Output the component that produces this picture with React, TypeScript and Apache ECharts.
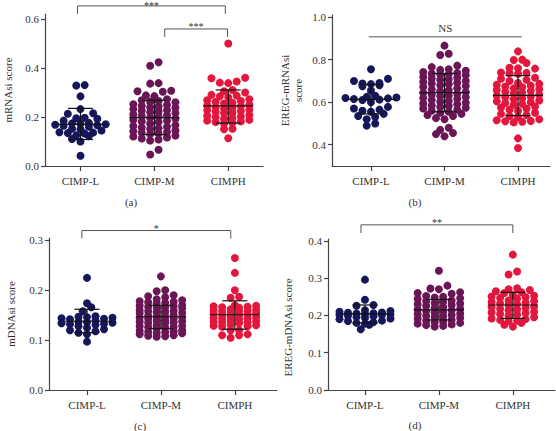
import React, { useEffect, useRef } from 'react';
import * as echarts from 'echarts';

const categories = ['CIMP-L', 'CIMP-M', 'CIMPH'];

// (a) mRNAsi score
const mRNAsiL = [0.33, 0.328, 0.284, 0.232, 0.215, 0.213, 0.197, 0.195, 0.193, 0.185, 0.176, 0.174, 0.172, 0.17, 0.168, 0.166, 0.164, 0.16, 0.152, 0.15, 0.145, 0.138, 0.136, 0.134, 0.132, 0.125, 0.122, 0.11, 0.1, 0.042];
const mRNAsiM = [0.423, 0.409, 0.338, 0.336, 0.307, 0.305, 0.303, 0.288, 0.285, 0.272, 0.268, 0.265, 0.262, 0.26, 0.252, 0.249, 0.246, 0.243, 0.24, 0.238, 0.232, 0.228, 0.225, 0.222, 0.219, 0.216, 0.21, 0.207, 0.204, 0.201, 0.198, 0.193, 0.188, 0.185, 0.182, 0.179, 0.173, 0.166, 0.163, 0.16, 0.157, 0.154, 0.151, 0.145, 0.142, 0.139, 0.136, 0.133, 0.13, 0.124, 0.12, 0.116, 0.112, 0.108, 0.104, 0.066, 0.047];
const mRNAsiH = [0.5, 0.36, 0.358, 0.345, 0.34, 0.338, 0.31, 0.305, 0.3, 0.29, 0.287, 0.284, 0.28, 0.272, 0.268, 0.265, 0.262, 0.258, 0.255, 0.25, 0.247, 0.244, 0.241, 0.238, 0.235, 0.23, 0.227, 0.224, 0.221, 0.218, 0.215, 0.208, 0.205, 0.202, 0.199, 0.196, 0.193, 0.188, 0.185, 0.182, 0.179, 0.176, 0.173, 0.152, 0.15, 0.113];
const mRNAsiMean = [0.17, 0.197, 0.245];
const mRNAsiSdLow = [0.108, 0.128, 0.175];
const mRNAsiSdHigh = [0.235, 0.268, 0.31];
const mRNAsiSig: [number, number, number, number, string][] = [[0.96, 2.96, 0.653, 0.62, '***'], [2.14, 2.99, 0.559, 0.527, '***']];

// (b) EREG-mRNAsi score
const eregMRNAsiL = [0.755, 0.71, 0.7, 0.69, 0.688, 0.685, 0.68, 0.675, 0.655, 0.63, 0.625, 0.622, 0.62, 0.618, 0.615, 0.612, 0.61, 0.6, 0.578, 0.57, 0.565, 0.56, 0.555, 0.545, 0.535, 0.53, 0.52, 0.5, 0.49];
const eregMRNAsiM = [0.866, 0.828, 0.822, 0.772, 0.765, 0.755, 0.752, 0.748, 0.742, 0.738, 0.735, 0.732, 0.73, 0.727, 0.72, 0.716, 0.712, 0.708, 0.705, 0.7, 0.695, 0.692, 0.688, 0.684, 0.68, 0.676, 0.672, 0.665, 0.66, 0.656, 0.652, 0.648, 0.645, 0.64, 0.636, 0.632, 0.628, 0.624, 0.62, 0.616, 0.61, 0.606, 0.602, 0.598, 0.594, 0.59, 0.585, 0.582, 0.578, 0.574, 0.57, 0.565, 0.56, 0.555, 0.55, 0.545, 0.54, 0.535, 0.525, 0.52, 0.48, 0.47, 0.455, 0.45, 0.44];
const eregMRNAsiH = [0.839, 0.8, 0.798, 0.784, 0.762, 0.76, 0.758, 0.74, 0.738, 0.736, 0.734, 0.715, 0.71, 0.705, 0.7, 0.69, 0.686, 0.682, 0.678, 0.674, 0.67, 0.665, 0.661, 0.657, 0.653, 0.649, 0.645, 0.641, 0.635, 0.631, 0.627, 0.623, 0.619, 0.615, 0.608, 0.604, 0.6, 0.596, 0.592, 0.588, 0.58, 0.575, 0.57, 0.565, 0.56, 0.55, 0.545, 0.54, 0.535, 0.53, 0.52, 0.515, 0.512, 0.51, 0.508, 0.505, 0.43, 0.385];
const eregMRNAsiMean = [0.613, 0.645, 0.632];
const eregMRNAsiSdLow = [0.545, 0.555, 0.537];
const eregMRNAsiSdHigh = [0.683, 0.735, 0.725];
const eregMRNAsiSig: [number, number, number, number, string][] = [[0.97, 3.05, 0.908, 0.908, 'NS']];

// (c) mDNAsi score
const mDNAsiL = [0.225, 0.174, 0.166, 0.158, 0.148, 0.147, 0.146, 0.145, 0.144, 0.143, 0.142, 0.139, 0.137, 0.136, 0.135, 0.134, 0.133, 0.132, 0.131, 0.128, 0.125, 0.122, 0.12, 0.118, 0.115, 0.112, 0.097];
const mDNAsiM = [0.228, 0.2, 0.198, 0.19, 0.188, 0.186, 0.182, 0.18, 0.178, 0.177, 0.176, 0.175, 0.174, 0.17, 0.169, 0.168, 0.167, 0.166, 0.165, 0.164, 0.16, 0.159, 0.158, 0.157, 0.156, 0.155, 0.154, 0.15, 0.149, 0.148, 0.147, 0.146, 0.145, 0.144, 0.143, 0.14, 0.139, 0.138, 0.137, 0.136, 0.135, 0.134, 0.13, 0.129, 0.128, 0.127, 0.126, 0.125, 0.124, 0.12, 0.119, 0.118, 0.117, 0.116, 0.115, 0.114, 0.112, 0.11, 0.109, 0.108, 0.107];
const mDNAsiH = [0.265, 0.235, 0.2, 0.187, 0.185, 0.17, 0.169, 0.168, 0.167, 0.166, 0.165, 0.162, 0.161, 0.16, 0.159, 0.158, 0.157, 0.155, 0.154, 0.153, 0.152, 0.151, 0.15, 0.147, 0.146, 0.145, 0.144, 0.143, 0.142, 0.139, 0.138, 0.137, 0.136, 0.135, 0.134, 0.131, 0.13, 0.129, 0.128, 0.127, 0.12, 0.12, 0.112, 0.11, 0.11, 0.105];
const mDNAsiMean = [0.138, 0.147, 0.151];
const mDNAsiSdLow = [0.115, 0.123, 0.122];
const mDNAsiSdHigh = [0.162, 0.17, 0.179];
const mDNAsiSig: [number, number, number, number, string][] = [[0.93, 2.945, 0.32, 0.304, '*']];

// (d) EREG-mDNAsi score
const eregMDNAsiL = [0.296, 0.242, 0.228, 0.226, 0.214, 0.212, 0.21, 0.208, 0.207, 0.206, 0.205, 0.204, 0.203, 0.202, 0.201, 0.2, 0.198, 0.196, 0.194, 0.192, 0.19, 0.186, 0.185, 0.182, 0.18, 0.178, 0.175, 0.163];
const eregMDNAsiM = [0.32, 0.28, 0.272, 0.27, 0.262, 0.26, 0.258, 0.252, 0.25, 0.248, 0.246, 0.244, 0.24, 0.238, 0.236, 0.234, 0.232, 0.23, 0.228, 0.226, 0.222, 0.22, 0.218, 0.216, 0.214, 0.212, 0.21, 0.208, 0.205, 0.203, 0.201, 0.199, 0.197, 0.195, 0.193, 0.191, 0.188, 0.186, 0.184, 0.182, 0.18, 0.178, 0.176, 0.174, 0.172, 0.17];
const eregMDNAsiH = [0.363, 0.318, 0.31, 0.273, 0.27, 0.268, 0.265, 0.262, 0.26, 0.255, 0.253, 0.251, 0.249, 0.247, 0.245, 0.24, 0.238, 0.236, 0.234, 0.232, 0.23, 0.228, 0.224, 0.222, 0.22, 0.218, 0.216, 0.214, 0.21, 0.208, 0.206, 0.204, 0.202, 0.2, 0.195, 0.192, 0.19, 0.188, 0.186, 0.185, 0.18, 0.175, 0.17];
const eregMDNAsiMean = [0.204, 0.215, 0.228];
const eregMDNAsiSdLow = [0.18, 0.188, 0.192];
const eregMDNAsiSdHigh = [0.228, 0.243, 0.262];
const eregMDNAsiSig: [number, number, number, number, string][] = [[0.946, 3.0, 0.443, 0.421, '**']];

const groupColors = ['#16175a', '#6a1656', '#e3173d'];
const rowLimit = [7, 6, 6];
const FONT = 'Liberation Serif';

const panels = [
  { groups: [mRNAsiL, mRNAsiM, mRNAsiH], mean: mRNAsiMean, lo: mRNAsiSdLow, hi: mRNAsiSdHigh, sig: mRNAsiSig,
    yName: 'mRNAsi score', nameGap: 31, namePad: 0, yMin: 0, yMax: 0.62, yTicks: [0, 0.2, 0.4, 0.6],
    xMin: 0.52, xMax: 3.47, left: 43, top: 14, width: 220, height: 152, caption: '(a)', capX: 131, capY: 202 },
  { groups: [eregMRNAsiL, eregMRNAsiM, eregMRNAsiH], mean: eregMRNAsiMean, lo: eregMRNAsiSdLow, hi: eregMRNAsiSdHigh, sig: eregMRNAsiSig,
    yName: 'EREG-mRNAsi\nscore', nameGap: 28, namePad: 0, yMin: 0.3, yMax: 1.01, yTicks: [0.4, 0.6, 0.8, 1.0],
    xMin: 0.47, xMax: 3.435, left: 332, top: 15, width: 218, height: 151, caption: '(b)', capX: 415, capY: 202 },
  { groups: [mDNAsiL, mDNAsiM, mDNAsiH], mean: mDNAsiMean, lo: mDNAsiSdLow, hi: mDNAsiSdHigh, sig: mDNAsiSig,
    yName: 'mDNAsi score', nameGap: 32, namePad: 0, yMin: 0, yMax: 0.305, yTicks: [0, 0.1, 0.2, 0.3],
    xMin: 0.486, xMax: 3.57, left: 49, top: 238, width: 228, height: 152, caption: '(c)', capX: 140, capY: 426 },
  { groups: [eregMDNAsiL, eregMDNAsiM, eregMDNAsiH], mean: eregMDNAsiMean, lo: eregMDNAsiSdLow, hi: eregMDNAsiSdHigh, sig: eregMDNAsiSig,
    yName: 'EREG-mDNAsi score', nameGap: 34, namePad: 26, yMin: 0, yMax: 0.405, yTicks: [0, 0.1, 0.2, 0.3, 0.4],
    xMin: 0.5, xMax: 3.57, left: 328, top: 239, width: 227, height: 151, caption: '(d)', capX: 415, capY: 425 },
];

// Prism-like column scatter layout: points with near-equal values share a row
function swarm(values: number[], center: number, pxX: number, pxY: number, binPx: number, spacingPx: number, maxRow: number) {
  const sorted = [...values].sort((a, b) => a - b);
  const rows: number[][] = [];
  let cur: number[] = [];
  let start = 0;
  for (const v of sorted) {
    if (cur.length === 0) {
      start = v;
      cur.push(v);
    } else if (cur.length < maxRow && (v - start) * pxY < binPx) {
      cur.push(v);
    } else {
      rows.push(cur);
      cur = [v];
      start = v;
    }
  }
  if (cur.length) rows.push(cur);
  const out: number[][] = [];
  for (const row of rows) {
    const n = row.length;
    const slots: number[] = [];
    for (let i = 0; i < n; i++) slots.push(i - (n - 1) / 2);
    slots.sort((a, b) => Math.abs(a) - Math.abs(b) || a - b);
    row.forEach((v, i) => {
      out.push([center + (slots[i] * spacingPx) / pxX, v]);
    });
  }
  return out;
}

export default function App() {
  const ref = useRef<HTMLDivElement>(null);
  useEffect(() => {
    if (!ref.current) return;
    const chart = echarts.init(ref.current, undefined, { renderer: 'svg' });
    const grid: any[] = [];
    const xAxis: any[] = [];
    const yAxis: any[] = [];
    const series: any[] = [];
    const graphic: any[] = [];
    const axisColor = '#444';
    const textColor = '#333';
    panels.forEach((p, i) => {
      grid.push({ left: p.left, top: p.top, width: p.width, height: p.height });
      xAxis.push({
        type: 'value', gridIndex: i, min: p.xMin, max: p.xMax,
        axisLine: { show: true, onZero: false, lineStyle: { color: axisColor, width: 1.2 } },
        axisTick: { show: true, length: 5, customValues: [1, 2, 3], lineStyle: { color: axisColor, width: 1.2 } },
        axisLabel: { customValues: [1, 2, 3], formatter: (v: number) => categories[Math.round(v) - 1] || '', margin: 9,
          fontSize: 11, fontFamily: FONT, color: textColor },
        splitLine: { show: false },
      });
      yAxis.push({
        type: 'value', gridIndex: i, min: p.yMin, max: p.yMax,
        name: p.yName, nameLocation: 'middle', nameGap: p.nameGap,
        nameTextStyle: { fontSize: 11, fontFamily: FONT, color: textColor, lineHeight: 13, padding: [0, p.namePad, 0, 0] },
        axisLine: { show: true, onZero: false, lineStyle: { color: axisColor, width: 1.2 } },
        axisTick: { show: true, length: 4, customValues: p.yTicks, lineStyle: { color: axisColor, width: 1.2 } },
        axisLabel: { customValues: p.yTicks, formatter: (v: number) => v.toFixed(1), margin: 6,
          fontSize: 11, fontFamily: FONT, color: textColor },
        splitLine: { show: false },
      });
      const pxX = p.width / (p.xMax - p.xMin);
      const pxY = p.height / (p.yMax - p.yMin);
      p.groups.forEach((vals, g) => {
        series.push({
          type: 'scatter', xAxisIndex: i, yAxisIndex: i, symbol: 'circle', symbolSize: 8,
          itemStyle: { color: groupColors[g], opacity: 1 }, silent: true,
          data: swarm(vals, g + 1, pxX, pxY, 5.5, 8.5, rowLimit[g]),
        });
      });
      series.push({
        type: 'custom', xAxisIndex: i, yAxisIndex: i, z: 5, silent: true, clip: false,
        data: p.mean.map((m, g) => [g + 1, m, p.lo[g], p.hi[g]]),
        renderItem: (params: any, api: any) => {
          const x = api.value(0);
          const pm = api.coord([x, api.value(1)]);
          const plo = api.coord([x, api.value(2)]);
          const phi = api.coord([x, api.value(3)]);
          const st = { stroke: '#111', lineWidth: 1.2 };
          return {
            type: 'group', children: [
              { type: 'line', shape: { x1: pm[0] - 25, y1: pm[1], x2: pm[0] + 25, y2: pm[1] }, style: st },
              { type: 'line', shape: { x1: pm[0], y1: phi[1], x2: pm[0], y2: plo[1] }, style: st },
              { type: 'line', shape: { x1: pm[0] - 12.5, y1: phi[1], x2: pm[0] + 12.5, y2: phi[1] }, style: st },
              { type: 'line', shape: { x1: pm[0] - 12.5, y1: plo[1], x2: pm[0] + 12.5, y2: plo[1] }, style: st },
            ],
          };
        },
      });
      const sig = p.sig;
      series.push({
        type: 'custom', xAxisIndex: i, yAxisIndex: i, z: 5, silent: true, clip: false,
        data: sig.map((s) => [s[0], s[2]]),
        renderItem: (params: any, api: any) => {
          const s = sig[params.dataIndex];
          const a = api.coord([s[0], s[2]]);
          const b = api.coord([s[1], s[2]]);
          const t = api.coord([s[0], s[3]]);
          const isNS = s[4] === 'NS';
          const st = { stroke: isNS ? '#8a8a8a' : '#555', lineWidth: isNS ? 1.6 : 1 };
          const children: any[] = [
            { type: 'line', shape: { x1: a[0], y1: a[1], x2: b[0], y2: b[1] }, style: st },
          ];
          if (!isNS) {
            children.push({ type: 'line', shape: { x1: a[0], y1: a[1], x2: a[0], y2: t[1] }, style: st });
            children.push({ type: 'line', shape: { x1: b[0], y1: a[1], x2: b[0], y2: t[1] }, style: st });
          }
          children.push({
            type: 'text', x: (a[0] + b[0]) / 2, y: isNS ? a[1] - 3 : Math.max(0.5, a[1] - 7),
            style: { text: s[4], align: 'center', verticalAlign: isNS ? 'bottom' : 'top', fontSize: isNS ? 11 : 10,
              fontFamily: FONT, fill: '#333' },
          });
          return { type: 'group', children };
        },
      });
      graphic.push({
        type: 'text', x: p.capX, y: p.capY,
        style: { text: p.caption, align: 'center', verticalAlign: 'middle', fontSize: 11, fontFamily: FONT, fill: textColor },
      });
    });
    chart.setOption({
      animation: false,
      backgroundColor: '#fff',
      grid, xAxis, yAxis, series, graphic,
    });
    return () => chart.dispose();
  }, []);
  return <div ref={ref} style={{ width: 556, height: 431, position: 'absolute', left: 0, top: 0 }} />;
}
